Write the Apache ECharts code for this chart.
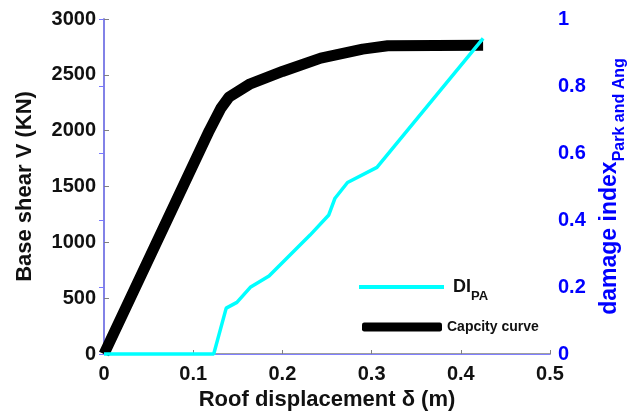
<!DOCTYPE html>
<html>
<head>
<meta charset="utf-8">
<script src="https://cdn.jsdelivr.net/npm/echarts@6/dist/echarts.min.js"></script>
<style>
  html, body { margin: 0; padding: 0; background: #fff; }
  #chart { width: 630px; height: 418px; }
</style>
</head>
<body>
<div id="chart"></div>
<script>
// capacity curve (roof displacement m -> base shear KN)
var dispX = [0, 0.118, 0.131, 0.14, 0.164, 0.2, 0.243, 0.29, 0.318, 0.425]
var shearV = [0, 2000, 2200, 2300, 2420, 2530, 2650, 2730, 2760, 2765]
// damage index (Park and Ang)
var diX = [0, 0.123, 0.137, 0.149, 0.164, 0.185, 0.231, 0.252, 0.259, 0.273, 0.306, 0.425]
var diVal = [0, 0, 0.137, 0.154, 0.199, 0.233, 0.355, 0.415, 0.465, 0.512, 0.557, 0.942]

var font = 'Liberation Sans, Arial, sans-serif'

function pairs(xs, ys) {
  return xs.map(function(x, i) { return [x, ys[i]] })
}

var chartDom = document.getElementById('chart')
var myChart = echarts.init(chartDom)
var option = {
  animation: false,
  textStyle: { fontFamily: font },
  grid: {
    left: 104,
    right: 80,
    top: 19,
    bottom: 64,
    outerBoundsMode: 'none' // keep the plot box where it is
  },
  legend: [
    {
      data: [{ name: 'DI', icon: 'rect' }],
      left: 359,
      top: 278,
      padding: 0,
      itemWidth: 85,
      itemHeight: 4,
      selectedMode: false,
      formatter: function() { return '{a|DI}{b|PA}' },
      textStyle: {
        rich: {
          a: { fontSize: 18, fontWeight: 'bold', color: '#111', lineHeight: 32, padding: [0, 0, 0, 4], fontFamily: font },
          b: { fontSize: 13, fontWeight: 'bold', color: '#111', verticalAlign: 'bottom', fontFamily: font }
        }
      }
    },
    {
      data: [{ name: 'Capcity curve', icon: 'roundRect' }],
      left: 362,
      top: 320,
      padding: 0,
      itemWidth: 80,
      itemHeight: 9,
      selectedMode: false,
      textStyle: { fontSize: 14, fontWeight: 'bold', color: '#111', fontFamily: font }
    }
  ],
  xAxis: [
    {
      type: 'value',
      position: 'bottom',
      min: 0,
      max: 0.5,
      interval: 0.1,
      name: 'Roof displacement δ (m)',
      nameLocation: 'middle',
      nameGap: 34,
      nameTextStyle: { fontSize: 22, fontWeight: 'bold', color: '#111', fontFamily: font },
      axisLine: { lineStyle: { color: '#808080', width: 1.5 } },
      axisTick: { inside: true, length: 4, lineStyle: { color: '#808080' } },
      axisLabel: { fontSize: 20, fontWeight: 'bold', color: '#111', margin: 10, fontFamily: font },
      splitLine: { show: false }
    },
    {
      type: 'value',
      position: 'top',
      min: 0,
      max: 0.5,
      axisLine: { lineStyle: { color: '#8080ff', width: 1 } },
      axisTick: { show: false },
      axisLabel: { show: false },
      splitLine: { show: false }
    }
  ],
  yAxis: [
    {
      type: 'value',
      position: 'left',
      min: 0,
      max: 3000,
      interval: 500,
      name: 'Base shear V (KN)',
      nameLocation: 'middle',
      nameGap: 68,
      nameTextStyle: { fontSize: 22, fontWeight: 'bold', color: '#111', fontFamily: font },
      axisLine: { show: true, lineStyle: { color: '#808080', width: 1.5 } },
      axisTick: { show: true, inside: true, length: 5, lineStyle: { color: '#808080' } },
      axisLabel: {
        fontSize: 20,
        fontWeight: 'bold',
        color: '#111',
        margin: 8,
        fontFamily: font,
        formatter: function(value) { return String(value) }
      },
      splitLine: { show: false }
    },
    {
      type: 'value',
      position: 'right',
      min: 0,
      max: 1,
      interval: 0.2,
      name: '{a|damage index}{b|Park and Ang}',
      nameLocation: 'middle',
      nameGap: 42,
      nameTextStyle: {
        rich: {
          a: { fontSize: 23, fontWeight: 'bold', color: '#0000ff', lineHeight: 36, fontFamily: font },
          b: { fontSize: 16, fontWeight: 'bold', color: '#0000ff', verticalAlign: 'bottom', fontFamily: font }
        }
      },
      axisLine: { show: true, lineStyle: { color: '#7878ff', width: 1.5 } },
      axisTick: { show: true, inside: true, length: 5, lineStyle: { color: '#7878ff' } },
      axisLabel: { fontSize: 20, fontWeight: 'bold', color: '#0000ff', margin: 8, fontFamily: font },
      splitLine: { show: false }
    }
  ],
  series: [
    {
      name: 'Capcity curve',
      type: 'line',
      xAxisIndex: 0,
      yAxisIndex: 0,
      symbol: 'none',
      color: '#000000',
      lineStyle: { color: '#000000', width: 11, cap: 'butt', join: 'round' },
      data: pairs(dispX, shearV)
    },
    {
      name: 'DI',
      type: 'line',
      xAxisIndex: 0,
      yAxisIndex: 1,
      symbol: 'none',
      clip: false,
      color: '#00ffff',
      lineStyle: { color: '#00ffff', width: 3.5 },
      data: pairs(diX, diVal)
    }
  ]
}
option && myChart.setOption(option)
</script>
</body>
</html>
